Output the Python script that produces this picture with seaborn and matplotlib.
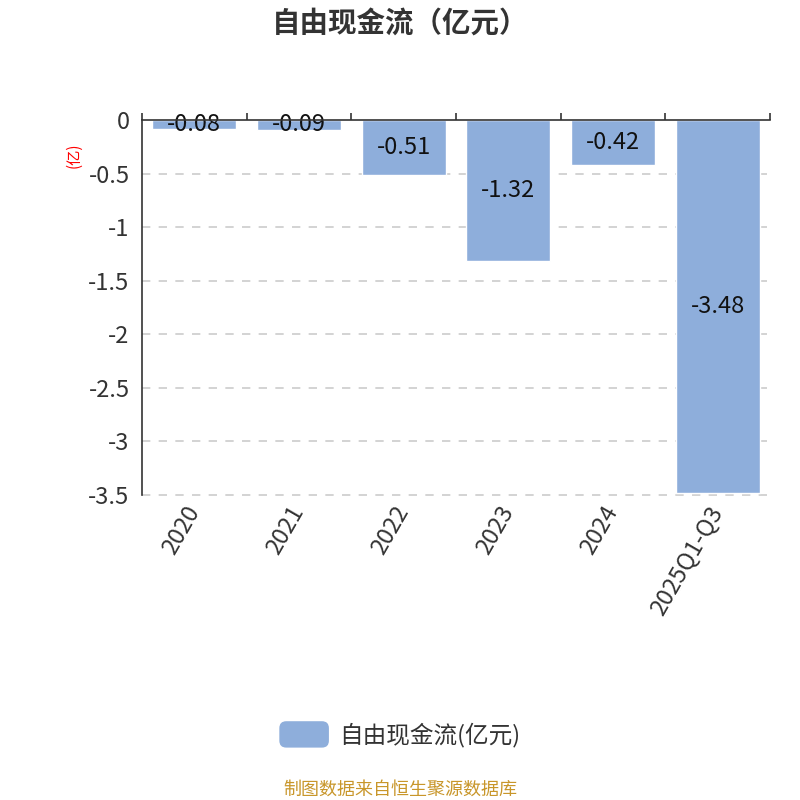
import numpy as np
import pandas as pd
import seaborn as sns
import matplotlib.pyplot as plt
from matplotlib.patches import FancyBboxPatch
from matplotlib.legend_handler import HandlerPatch

years = ["2020", "2021", "2022", "2023", "2024", "2025Q1-Q3"]
fcf = [-0.08, -0.09, -0.51, -1.32, -0.42, -3.48]
yticks = [0, -0.5, -1, -1.5, -2, -2.5, -3, -3.5]
ytick_labels = ["0", "-0.5", "-1", "-1.5", "-2", "-2.5", "-3", "-3.5"]
series_name = "自由现金流(亿元)"

df = pd.DataFrame({"year": years, "value": fcf, "series": series_name})

sns.set_style("white")
plt.rcParams["font.family"] = ["Noto Sans CJK SC", "DejaVu Sans"]

bar_color = "#8eaedb"
text_color = "#333333"

fig = plt.figure(figsize=(8, 8), dpi=100)
ax = fig.add_axes([0.1775, 0.38125, 0.785, 0.46875])

sns.barplot(data=df, x="year", y="value", hue="series", palette=[bar_color],
            width=0.8, saturation=1, ax=ax, legend=False)

ax.set_ylim(-3.5, 0)
ax.set_xlim(-0.5, len(years) - 0.5)
ax.set_yticks(yticks)
ax.set_yticklabels(ytick_labels, fontsize=17, color=text_color)
ax.tick_params(axis="y", direction="out", length=6, width=1.2, color=text_color, pad=3)

# category labels below plot, axis line at zero on top
ax.set_xticks(range(len(years)))
ax.set_xticklabels(years, rotation=60, ha="right", va="center", rotation_mode="anchor",
                   fontsize=17, color=text_color)
ax.tick_params(axis="x", which="major", length=0, pad=9)
ax.set_xticks(np.arange(-0.5, len(years)), minor=True)
ax.tick_params(axis="x", which="minor", bottom=False, top=True, direction="out",
               length=5, width=1.2, color=text_color)

for s in ["right", "bottom"]:
    ax.spines[s].set_visible(False)
ax.spines["left"].set_color(text_color)
ax.spines["left"].set_linewidth(1.2)
ax.spines["top"].set_color(text_color)
ax.spines["top"].set_linewidth(1.2)
ax.spines["top"].set_zorder(5)

for y in yticks[1:]:
    ax.axhline(y, color="#cccccc", linestyle=(0, (5, 5)), linewidth=1.2,
               zorder=0, clip_on=False)

ax.set_xlabel("")
ax.set_ylabel("(亿)", color="red", fontsize=11, labelpad=2)
ax.yaxis.set_label_coords(-0.095, 0.907)

for container in ax.containers:
    for bar, v in zip(container, fcf):
        ax.text(bar.get_x() + bar.get_width() / 2, bar.get_height() / 2,
                f"{v:.2f}", ha="center", va="center", fontsize=17, color="#111111")

fig.text(0.5, 0.969, "自由现金流（亿元）", ha="center", va="center",
         fontsize=20.5, fontweight="bold", color=text_color)


class RoundHandler(HandlerPatch):
    def create_artists(self, legend, orig_handle, xdescent, ydescent, width, height, fontsize, trans):
        p = FancyBboxPatch((-xdescent, -ydescent - 3), width, height + 6,
                           boxstyle="round,pad=0,rounding_size=5",
                           facecolor=bar_color, edgecolor="none", transform=trans)
        return [p]


handle = plt.Rectangle((0, 0), 1, 1, color=bar_color)
fig.legend([handle], [series_name], loc="center", bbox_to_anchor=(0.5, 0.081),
           frameon=False, fontsize=17, handlelength=2.1, handleheight=0.8,
           handletextpad=0.45,
           handler_map={plt.Rectangle: RoundHandler()}, labelcolor=text_color)

fig.text(0.5, 0.0135, "制图数据来自恒生聚源数据库", ha="center", va="center",
         fontsize=13, color="#c8962a")

fig.savefig("out.png", dpi=100)
